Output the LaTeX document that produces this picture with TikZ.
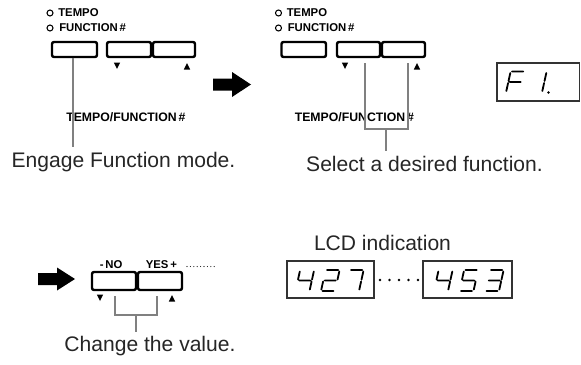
\documentclass[tikz,border=0pt]{standalone}
\usepackage{fontspec}
\setmainfont{Liberation Sans}
\newcommand\sgA{(1.5,-21) -- (12.5,-21)}
\newcommand\sgB{(14,-19.5) -- (14,-11.5)}
\newcommand\sgC{(14,-9.5) -- (14,-1.5)}
\newcommand\sgD{(1.5,0) -- (12.5,0)}
\newcommand\sgE{(0,-1.5) -- (0,-9.5)}
\newcommand\sgF{(0,-11.5) -- (0,-19.5)}
\newcommand\sgG{(1.5,-10.5) -- (12.5,-10.5)}
\newcommand\lcdd[3]{\begin{scope}[shift={(#1,#2)},xslant=0.22]\draw[segline] #3;\end{scope}}
\begin{document}
\begin{tikzpicture}[x=0.75pt,y=-0.75pt,
  lbl/.style={font=\fontsize{8.5}{9}\selectfont\bfseries, inner sep=0, anchor=base west},
  biglbl/.style={font=\fontsize{9.2}{10}\selectfont\bfseries, inner sep=0, anchor=base west},
  captxt/.style={font=\fontsize{15.8}{18}\selectfont, inner sep=0, anchor=base, text=black!85},
  btn/.style={draw=black, line width=1.8pt, rounded corners=1.5pt},
  leadline/.style={draw=black!50, line width=1.6pt},
  tri/.style={fill=black},
  lcdbox/.style={draw=black!80, line width=0.8pt},
  segline/.style={line width=1.35pt, line cap=round},
  blockarrow/.style={fill=black},
  ledring/.style={draw=black, line width=0.8pt}
]
\useasboundingbox (0,0) rectangle (581,364);

% ---------- Panel 1 ----------
\draw[ledring] (50,13) circle (3);
\draw[ledring] (50,28) circle (3);
\node[lbl] (p1tempo) at (58,16.5) {TEMPO};
\node[lbl] (p1func) at (59,31.5) {FUNCTION\,\#};
\draw[btn] (52,42) rectangle (97,57);
\draw[btn] (107,42) rectangle (151,57);
\draw[btn] (153,42) rectangle (195,57);
\fill[tri] (113.8,62.5) -- (120.2,62.5) -- (117,69) -- cycle;
\fill[tri] (183.8,69.5) -- (190.2,69.5) -- (187,63) -- cycle;
\node[biglbl] (p1tf) at (66,121.5) {TEMPO/FUNCTION\,\#};
\node[captxt] (cap1) at (123.5,167.5) {Engage Function mode.};
\coordinate (l1a) at (73,57.5);
\coordinate (l1b) at (73,147);
\draw[leadline] (l1a) -- (l1b);

% ---------- Arrow 1 ----------
\fill[blockarrow] (213,78.5) -- (232,78.5) -- (232,72) -- (251,84.5) -- (232,97) -- (232,90.5) -- (213,90.5) -- cycle;

% ---------- Panel 2 ----------
\draw[ledring] (278.5,13) circle (3);
\draw[ledring] (278.5,28) circle (3);
\node[lbl] (p2tempo) at (286.5,16.5) {TEMPO};
\node[lbl] (p2func) at (287.5,31.5) {FUNCTION\,\#};
\draw[btn] (281.5,42) rectangle (326,57);
\draw[btn] (337,42) rectangle (380,57);
\draw[btn] (382,42) rectangle (425,57);
\fill[tri] (341.8,62.5) -- (348.2,62.5) -- (345,69) -- cycle;
\fill[tri] (413.8,69.5) -- (420.2,69.5) -- (417,63) -- cycle;
\node[biglbl] (p2tf) at (294.5,121.5) {TEMPO/FUNCTION\,\#};
\node[captxt] (cap2) at (424.5,171.5) {Select a desired function.};
\coordinate (l2a) at (365,63);
\coordinate (l2b) at (408,63);
\coordinate (l2j) at (386,129);
\coordinate (l2c) at (386,151);
\draw[leadline] (l2a) |- (l2j) -| (l2b);
\draw[leadline] (l2j) -- (l2c);

% ---------- LCD F1 ----------
\draw[lcdbox] (497,63) rectangle (579.6,101);
\lcdd{506}{92.5}{\sgA \sgF \sgG \sgE}
\lcdd{528}{92.5}{\sgB \sgC}
\fill (548.5,92.5) circle (1.3);

% ---------- Arrow 2 ----------
\fill[blockarrow] (38,273) -- (57,273) -- (57,267.5) -- (75,279) -- (57,290.5) -- (57,285) -- (38,285) -- cycle;

% ---------- Bottom buttons ----------
\node[lbl] (no) at (99.5,268) {-\,NO};
\node[lbl] (yes) at (145.5,268) {YES\,+};
\foreach \i in {0,...,8} \fill (187+3.4*\i,266.5) circle (0.55);
\draw[btn] (92,272) rectangle (136,290);
\draw[btn] (138,272) rectangle (182,290);
\fill[tri] (96.8,294.5) -- (103.2,294.5) -- (100,301) -- cycle;
\fill[tri] (168.8,301.5) -- (175.2,301.5) -- (172,295) -- cycle;
\node[captxt] (cap3) at (150,351.5) {Change the value.};
\coordinate (l3a) at (115,296);
\coordinate (l3b) at (157,296);
\coordinate (l3j) at (136,315);
\coordinate (l3c) at (136,332);
\draw[leadline] (l3a) |- (l3j) -| (l3b);
\draw[leadline] (l3j) -- (l3c);

% ---------- LCD indication ----------
\node[captxt] (lcdcap) at (382.5,250) {LCD indication};
\draw[lcdbox] (287,261) rectangle (374,298);
\lcdd{295.5}{291}{\sgF \sgG \sgB \sgC}
\lcdd{321}{291}{\sgA \sgB \sgG \sgE \sgD}
\lcdd{345}{291}{\sgA \sgB \sgC}
\foreach \i in {0,...,4} \fill (380+9.5*\i,280) circle (1.4);
\draw[lcdbox] (423,261) rectangle (512,298);
\lcdd{434}{291}{\sgF \sgG \sgB \sgC}
\lcdd{459.5}{291}{\sgA \sgF \sgG \sgC \sgD}
\lcdd{485}{291}{\sgA \sgB \sgG \sgC \sgD}
\end{tikzpicture}
\end{document}
